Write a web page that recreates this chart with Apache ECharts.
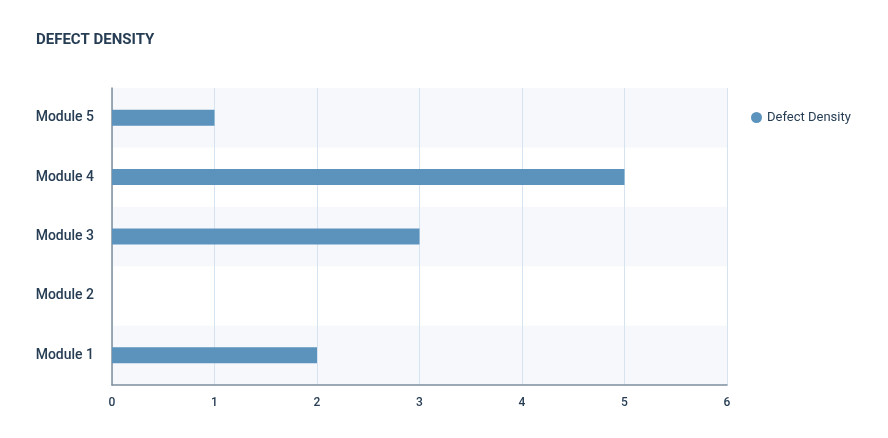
<!DOCTYPE html>
<html>
<head>
<meta charset="utf-8">
<script src="https://cdn.jsdelivr.net/npm/echarts@6/dist/echarts.min.js"></script>
<style>
html,body{margin:0;padding:0;background:#fff;}
#chart{width:888px;height:438px;}
</style>
</head>
<body>
<div id="chart"></div>
<script>
const categories = ['Module 1', 'Module 2', 'Module 3', 'Module 4', 'Module 5'];
const defectDensity = [2, 0, 3, 5, 1];
const seriesName = 'Defect Density';

const chart = echarts.init(document.getElementById('chart'));
const font = 'Roboto, "Noto Sans", sans-serif';
chart.setOption({
  animation: false,
  textStyle: { fontFamily: font },
  title: {
    text: 'DEFECT DENSITY',
    left: 31, top: 28,
    textStyle: { fontSize: 15, fontWeight: 'bold', color: '#263d54', fontFamily: font }
  },
  legend: {
    data: [seriesName],
    left: 746, top: 106,
    orient: 'vertical',
    icon: 'circle',
    itemWidth: 11, itemHeight: 11, itemGap: 8,
    textStyle: { fontSize: 13, color: '#263d54', fontFamily: font }
  },
  grid: { left: 112, right: 161, top: 88, bottom: 53, containLabel: false },
  xAxis: {
    type: 'value',
    min: 0, max: 6, interval: 1,
    axisLine: { show: true, lineStyle: { color: '#7d8f9f', width: 1.5 } },
    axisTick: { show: false },
    axisLabel: { fontSize: 12, color: '#263d54', margin: 12, fontWeight: 500 },
    splitLine: { show: true, lineStyle: { color: '#d5e4f0', width: 1 } }
  },
  yAxis: {
    type: 'category',
    data: categories,
    axisLine: { show: true, lineStyle: { color: '#7d8f9f', width: 1.5 } },
    axisTick: { show: false },
    axisLabel: { fontSize: 14, color: '#263d54', margin: 18, fontWeight: 500 },
    splitArea: { show: true, areaStyle: { color: ['#f6f8fc', '#ffffff'] } },
    splitLine: { show: false }
  },
  series: [{
    name: seriesName,
    type: 'bar',
    data: defectDensity,
    barWidth: 16,
    itemStyle: { color: '#5b93bd' }
  }]
});
</script>
</body>
</html>
